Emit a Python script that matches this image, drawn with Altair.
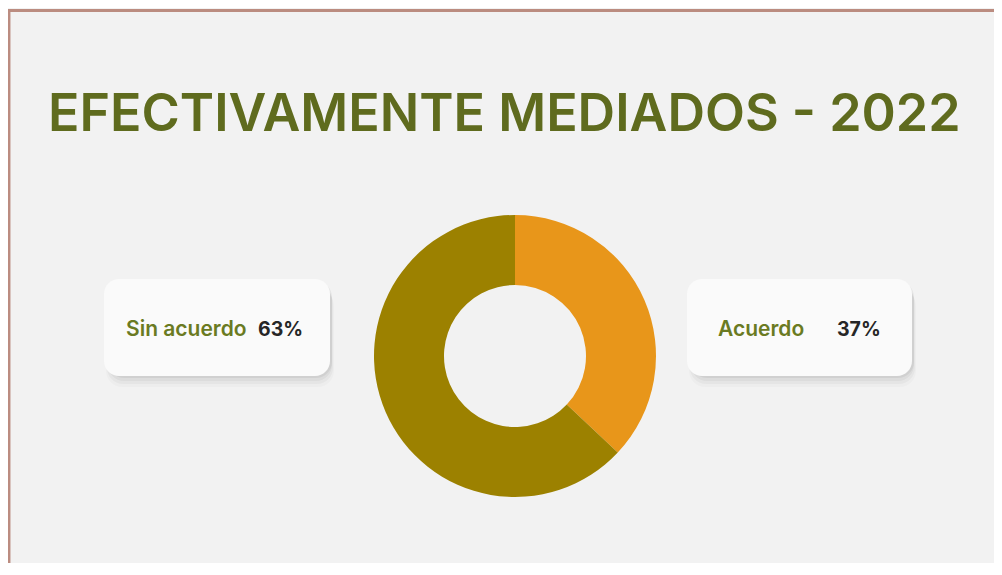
import altair as alt
import pandas as pd

# ---- data ----
categories = ["Acuerdo", "Sin acuerdo"]
percentages = [37, 63]
slice_order = [0, 1]
slice_colors = ["#E8961A", "#9C8100"]
title_text = "EFECTIVAMENTE MEDIADOS - 2022"

df = pd.DataFrame({"categoria": categories, "porcentaje": percentages, "orden": slice_order})
one = pd.DataFrame({"k": [0]})

W, H = 986, 555
FONT = "Inter"
LABEL_GREEN = "#6A7A22"
TITLE_GREEN = "#5F6B1E"
BORDER = "#BB8C80"

# border lines
top_rule = alt.Chart(one).mark_rule(color=BORDER, strokeWidth=3).encode(
    x=alt.value(0), x2=alt.value(W), y=alt.value(2.5))
left_rule = alt.Chart(one).mark_rule(color=BORDER, strokeWidth=2.5).encode(
    x=alt.value(1.2), y=alt.value(1), y2=alt.value(H))

# title
title = alt.Chart(one).mark_text(
    text=title_text, align="left", baseline="alphabetic", font=FONT,
    fontSize=52, fontWeight=600, color=TITLE_GREEN
).encode(x=alt.value(40), y=alt.value(123))

# donut
arc = alt.Chart(df).mark_arc(outerRadius=141, innerRadius=71).encode(
    theta=alt.Theta("porcentaje:Q", stack=True),
    color=alt.Color("categoria:N", scale=alt.Scale(domain=categories, range=slice_colors), legend=None),
    order=alt.Order("orden:Q"),
    x=alt.value(507), y=alt.value(348),
)

def card(cat, x0, x1, y0, y1, label_x, pct_x, ty):
    base = alt.Chart(df).transform_filter(alt.datum.categoria == cat)
    layers = []
    for dx, dy, op in [(2, 11, 0.02), (1, 8, 0.03), (0, 5, 0.04), (0, 2, 0.05)]:
        layers.append(base.mark_rect(cornerRadius=16, color="#000000", opacity=op).encode(
            x=alt.value(x0 - dx + 4), x2=alt.value(x1 + dx + 2), y=alt.value(y0 + dy), y2=alt.value(y1 + dy)))
    layers.append(base.mark_rect(cornerRadius=15, color="#FAFAFA").encode(
        x=alt.value(x0), x2=alt.value(x1), y=alt.value(y0), y2=alt.value(y1)))
    layers.append(base.mark_text(align="left", baseline="alphabetic", font=FONT, fontSize=21,
                                 fontWeight=600, color=LABEL_GREEN).encode(
        text="categoria:N", x=alt.value(label_x), y=alt.value(ty)))
    layers.append(base.transform_calculate(pct="format(datum.porcentaje, 'd') + '%'").mark_text(
        align="left", baseline="alphabetic", font=FONT, fontSize=19.5, fontWeight=700, color="#262626").encode(
        text="pct:N", x=alt.value(pct_x), y=alt.value(ty)))
    return layers

left_card = card("Sin acuerdo", 96, 322, 271, 368, 118, 250, 328)
right_card = card("Acuerdo", 679, 904, 271, 368, 710, 829, 328)

chart = alt.layer(
    top_rule, left_rule, title, arc, *left_card, *right_card
).properties(
    width=W, height=H, padding=0, autosize=alt.AutoSizeParams(type="none"),
    background="#F2F2F2"
).configure_view(stroke=None)

chart.save("out.html", embed_options={"renderer": "svg", "actions": False})
